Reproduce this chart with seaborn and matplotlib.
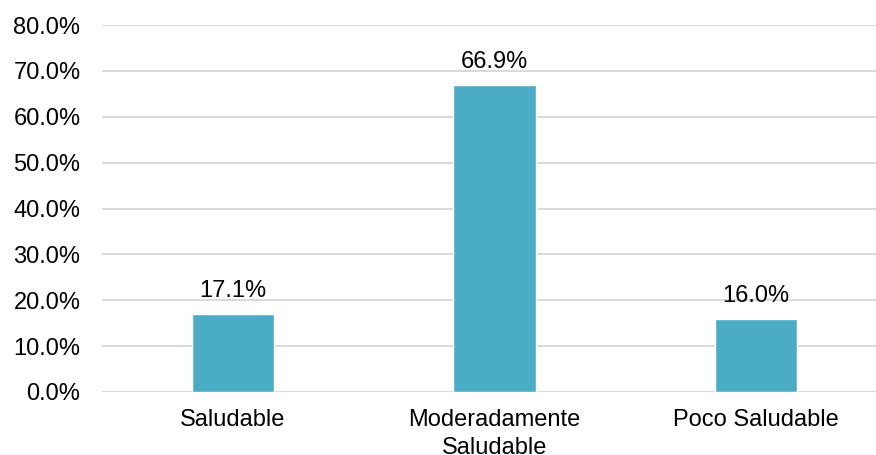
import matplotlib
matplotlib.use("Agg")
import matplotlib.pyplot as plt
import seaborn as sns
import pandas as pd

categories = ["Saludable", "Moderadamente\nSaludable", "Poco Saludable"]
values = [17.1, 66.9, 16.0]
yticks = [0, 10, 20, 30, 40, 50, 60, 70, 80]

sns.set_theme(style="white")
plt.rcParams['font.family'] = ['Liberation Sans', 'DejaVu Sans']

fig = plt.figure(figsize=(8.76, 4.55), dpi=100)
ax = fig.add_axes([102/876, 63/455, (876-102)/876, (392-25)/455])

df = pd.DataFrame({"cat": categories, "val": values})
sns.barplot(data=df, x="cat", y="val", color="#4BACC6", saturation=1,
            width=0.314, ax=ax, zorder=3)

ax.set_xlim((102-233)/261.5, (876-233)/261.5)
ax.set_ylim(0, 80)
ax.set_yticks(yticks)
ax.set_yticklabels([f"{t:.1f}%" for t in yticks])
ax.yaxis.grid(True, color="#d9d9d9", linewidth=1.4, zorder=0)
ax.set_axisbelow(True)
for s in ax.spines.values():
    s.set_visible(False)
ax.tick_params(axis="y", length=0, pad=15.5, labelsize=17, labelcolor="black")
ax.tick_params(axis="x", length=0, pad=12.5, labelsize=17, labelcolor="black")
for lbl in ax.get_xticklabels():
    lbl.set_linespacing(1.35)
ax.set_xlabel("")
ax.set_ylabel("")

for i, v in enumerate(values):
    ax.annotate(f"{v:.1f}%", (i, v), xytext=(0, 8.5), textcoords="offset points",
                ha="center", va="bottom", fontsize=17, color="black")

fig.savefig("out.png", dpi=100)
